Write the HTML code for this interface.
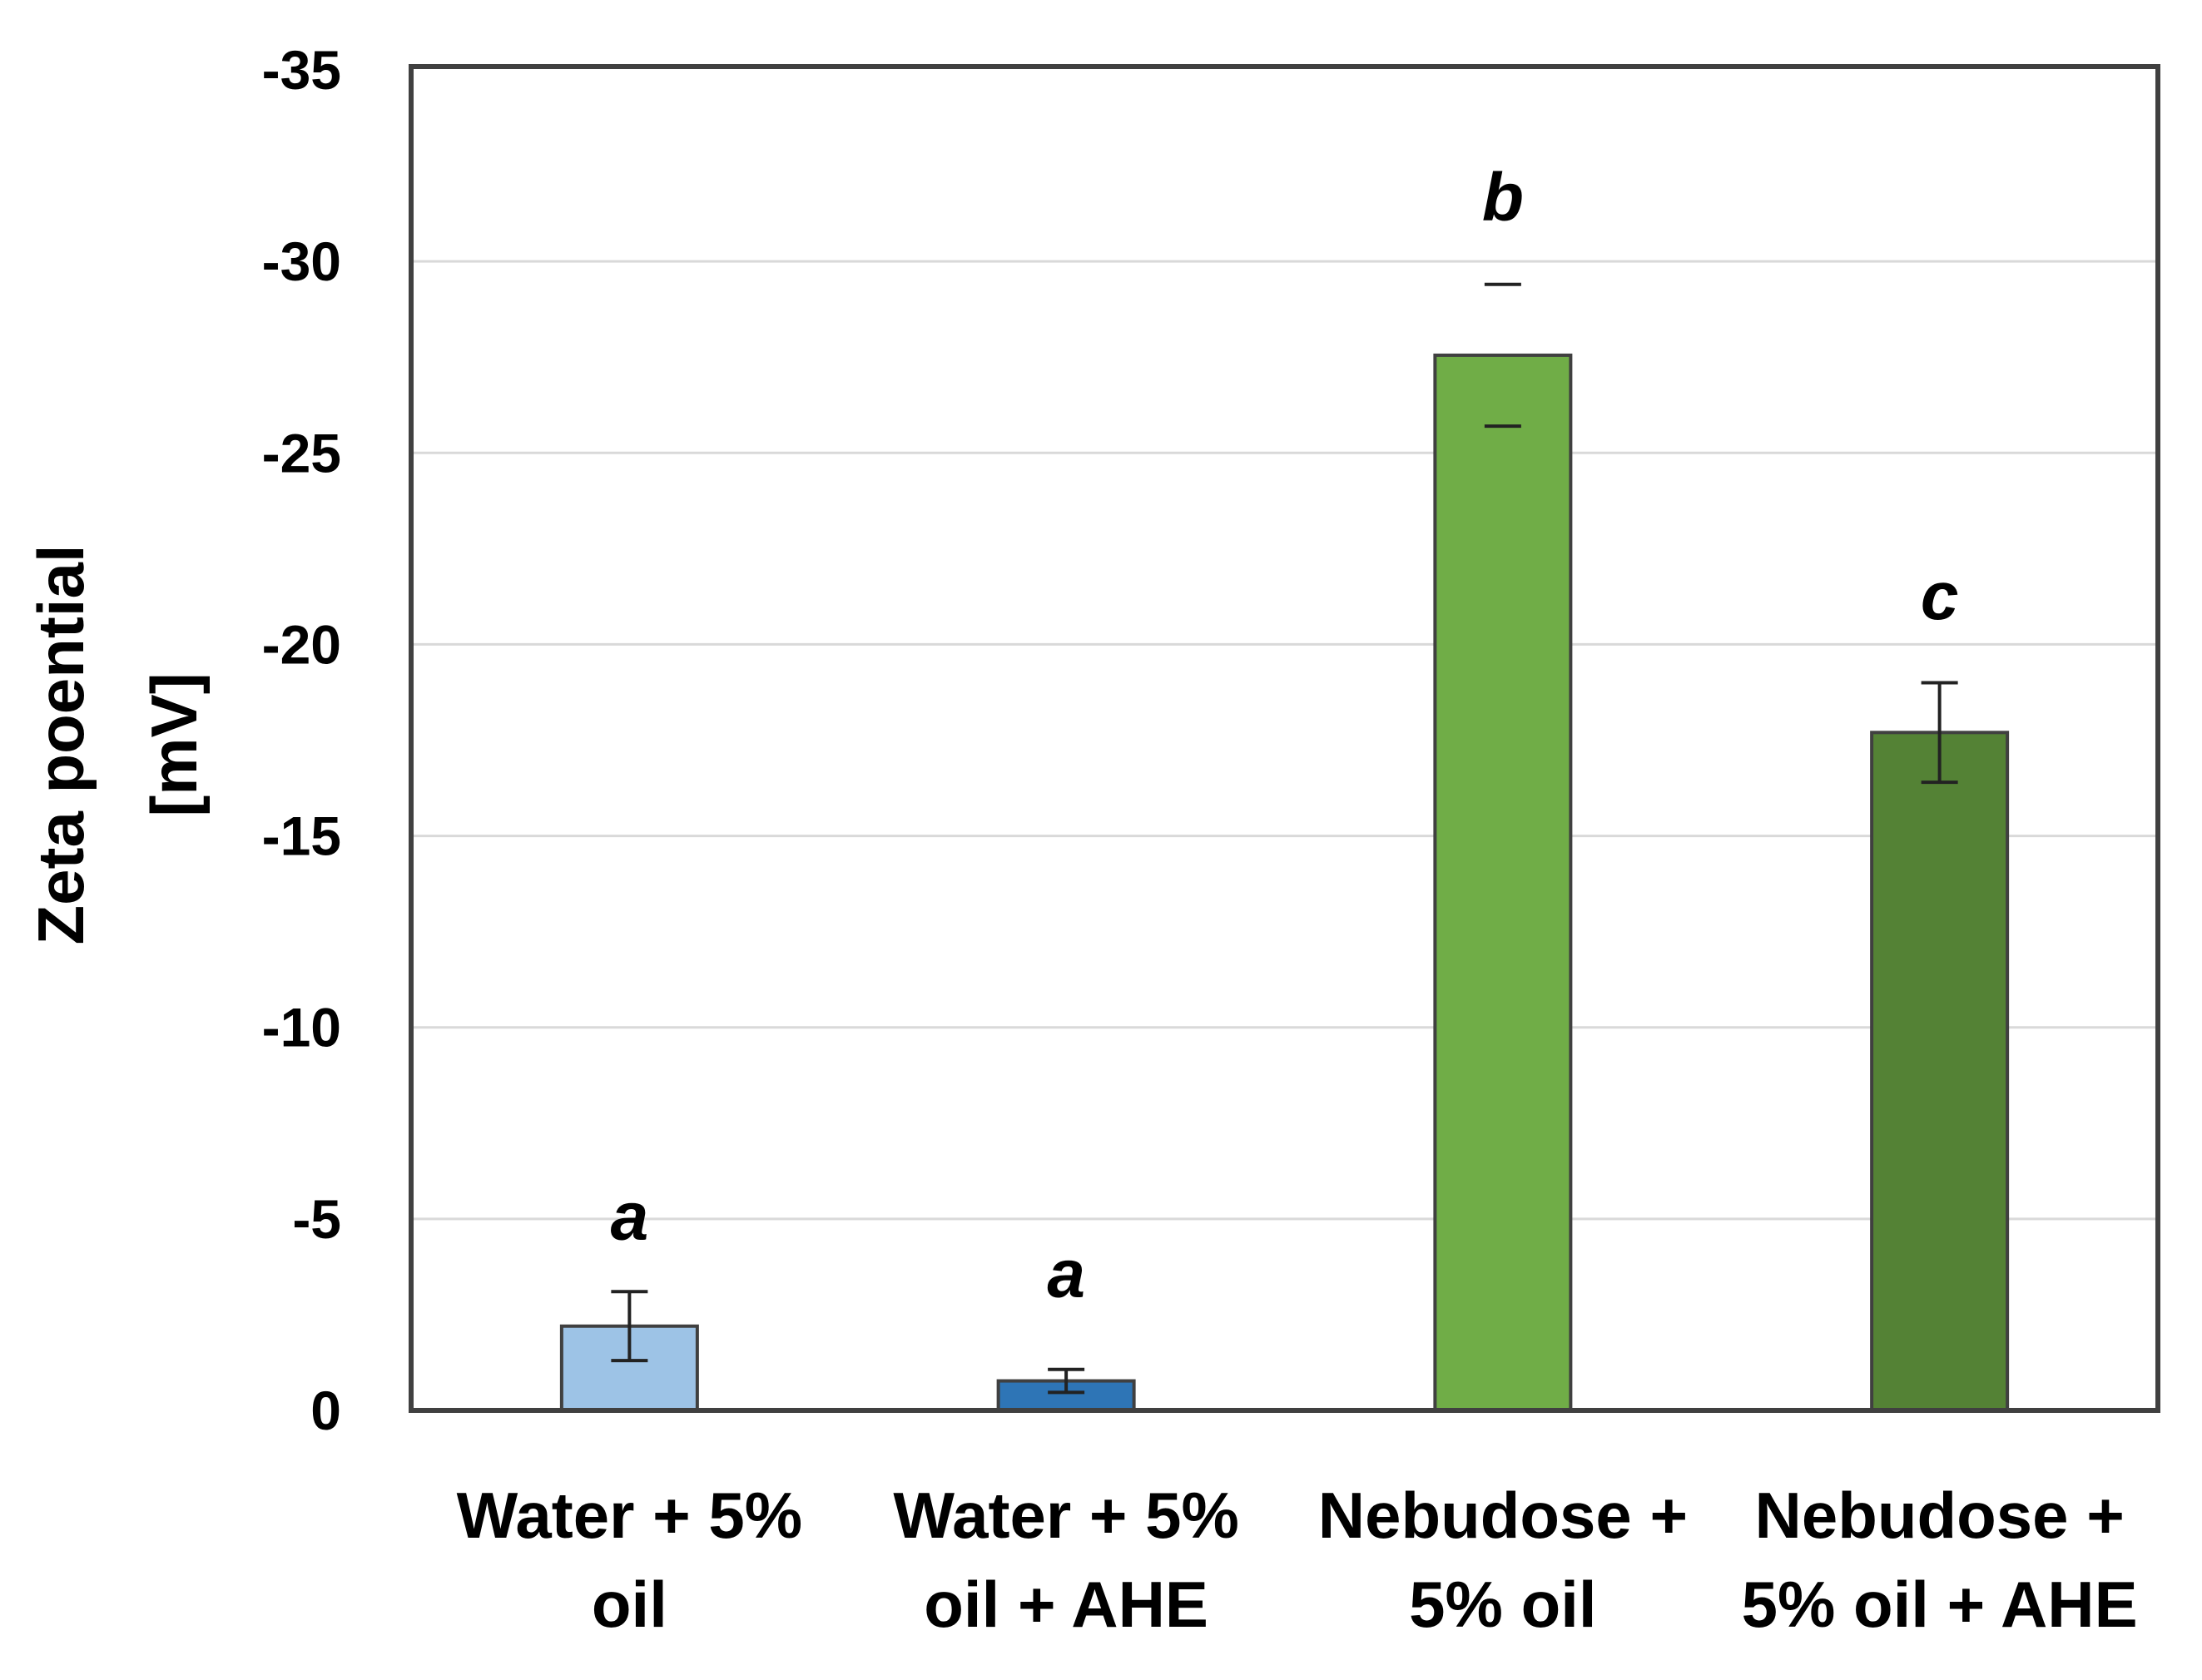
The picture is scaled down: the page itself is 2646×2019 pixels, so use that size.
<!DOCTYPE html>
<html><head><meta charset="utf-8"><style>
html,body{margin:0;padding:0;background:#fff;}
svg{display:block;}
text{font-family:"Liberation Sans",sans-serif;font-weight:bold;fill:#000;}
</style></head><body>
<svg id="chart" width="2646" height="2019" viewBox="0 0 2646 2019" xmlns="http://www.w3.org/2000/svg">
<g id="grid"></g>
<g id="bars"></g>
<g id="errs"></g>
<g id="letters"></g>
<rect x="494" y="80" width="2099" height="1615" fill="none" stroke="#404040" stroke-width="6"/>
<g id="yticks"></g>
<g id="xlabels"></g>
<g font-size="78">
<text transform="translate(100,895) rotate(-90)" text-anchor="middle">Zeta poential</text>
<text transform="translate(236,895) rotate(-90)" text-anchor="middle">[mV]</text>
</g>
</svg>
<script>
const categories = [["Water + 5%","oil"],["Water + 5%","oil + AHE"],["Nebudose +","5% oil"],["Nebudose +","5% oil + AHE"]];
const values = [2.2, 0.77, 27.55, 17.7];
const errors = [0.9, 0.3, 1.85, 1.3];
const showStem = [true, true, false, true];
const letters = ["a","a","b","c"];
const letterValues = [4.9, 3.4, 31.5, 21.1];
const yTicks = [0,5,10,15,20,25,30,35];
const yTickLabels = ["0","-5","-10","-15","-20","-25","-30","-35"];
const colors = ["#9DC3E6","#2E75B6","#70AD47","#548235"];

const NS="http://www.w3.org/2000/svg";
const L=494,R=2593,Y0=1695,YMAX=84,VMAX=35;
function y(v){return Y0-(v/VMAX)*(Y0-YMAX);}
function xc(i){return L+(R-L)/categories.length*(i+0.5);}
function mk(tag,attrs,parent){const e=document.createElementNS(NS,tag);for(const k in attrs)e.setAttribute(k,attrs[k]);parent.appendChild(e);return e;}
const grid=document.getElementById('grid'),bars=document.getElementById('bars'),errs=document.getElementById('errs'),lt=document.getElementById('letters'),yt=document.getElementById('yticks'),xl=document.getElementById('xlabels');
yTicks.forEach((v,i)=>{
  if(v>0&&v<VMAX){const g=mk('line',{x1:L,x2:R,y1:y(v),y2:y(v),stroke:'#d9d9d9','stroke-width':3},grid);
  
  }
  const t=mk('text',{x:410,y:y(v)+23,'text-anchor':'end','font-size':66},yt);
  t.textContent=yTickLabels[i];
  
  
});
const bw=163;
values.forEach((v,i)=>{
  const cx=xc(i);
  const b=mk('rect',{x:cx-bw/2,y:y(v),width:bw,height:Y0-y(v),fill:colors[i],stroke:'#404040','stroke-width':4},bars);
  
  
  const hi=y(v+errors[i]),lo=y(v-errors[i]);
  if(showStem[i]){const s=mk('line',{x1:cx,x2:cx,y1:hi,y2:lo,stroke:'#222','stroke-width':4},errs);
  
  }
  [hi,lo].forEach(yy=>{const c=mk('line',{x1:cx-22,x2:cx+22,y1:yy,y2:yy,stroke:'#222','stroke-width':4},errs);
  
  });
  const l=mk('text',{x:cx,y:y(letterValues[i])+20,'text-anchor':'middle','font-size':82,'font-style':'italic'},lt);
  l.textContent=letters[i];
  
  
  categories[i].forEach((line,j)=>{
    const t=mk('text',{x:cx,y:1848+j*107,'text-anchor':'middle','font-size':78},xl);
    t.textContent=line;
    
    
  });
});
</script>
</body></html>
